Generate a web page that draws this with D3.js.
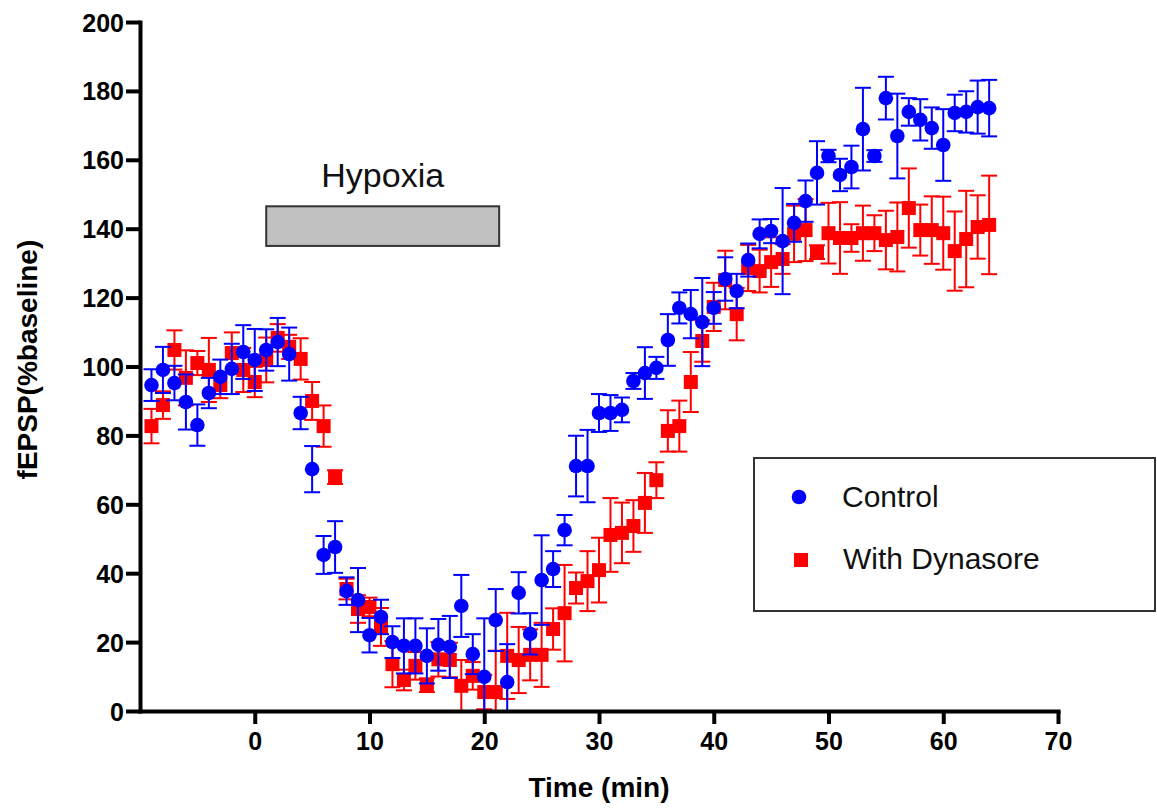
<!DOCTYPE html>
<html>
<head>
<meta charset="utf-8">
<script src="https://cdn.jsdelivr.net/npm/d3@7.9.0/dist/d3.min.js"></script>
<style>
  body { margin: 0; background: #fff; }
  svg text { font-family: "Liberation Sans", Arial, sans-serif; }
</style>
</head>
<body>
<svg id="chart" width="1157" height="809"></svg>
<script>
// time points (min)
const time = [-9, -8, -7, -6, -5, -4, -3, -2, -1, 0, 1, 2, 3, 4, 5, 6, 7, 8, 9, 10,
  11, 12, 13, 14, 15, 16, 17, 18, 19, 20, 21, 22, 23, 24, 25, 26, 27, 28, 29, 30,
  31, 32, 33, 34, 35, 36, 37, 38, 39, 40, 41, 42, 43, 44, 45, 46, 47, 48, 49, 50,
  51, 52, 53, 54, 55, 56, 57, 58, 59, 60, 61, 62, 63, 64];

// Control mean / SEM
const controlMean = [94.6, 99, 95.2, 89.7, 83, 92.3, 97, 99.3, 104.2, 101.9,
  104.8, 107.1, 103.6, 86.5, 70.2, 45.3, 47.6, 34.8, 32.2, 22,
  27.3, 20, 18.9, 18.9, 16, 19.2, 18.6, 30.5, 16.5, 9.9,
  26.4, 8.4, 34.3, 22.4, 38, 41.2, 52.5, 71.1, 71.1, 86.5,
  86.5, 87.4, 95.8, 98.1, 99.6, 107.7, 117, 115.2, 112.9, 117,
  125.4, 121.9, 130.9, 138.5, 139.3, 136.4, 141.7, 148, 156.2, 161.1,
  155.6, 157.9, 168.9, 161.1, 177.9, 166.9, 173.9, 171.6, 169.2, 164.3,
  173.6, 173.9, 175.3, 175];
const controlSem = [4.6, 6.7, 5, 8, 6, 4.4, 5, 7.3, 7.8, 9,
  6, 7, 7.7, 4.7, 6.7, 5.5, 7.5, 4, 9.3, 5,
  5, 4.6, 8, 8, 8, 7.5, 9, 9, 5.8, 17,
  9, 11, 6, 6, 13, 5.2, 4.4, 8.8, 10.5, 5.5,
  5.2, 3.6, 2.3, 7.5, 3.2, 7.5, 4.5, 7, 12.8, 4.6,
  6.3, 5, 4.8, 4.2, 3.5, 15.4, 5.5, 6, 9.2, 1.8,
  4.7, 6.2, 12, 1.7, 6.2, 12.3, 4, 6, 6, 10.4,
  5.3, 6, 7.7, 8.2];

// With Dynasore mean / SEM
const dynMean = [82.7, 88.8, 104.8, 96.7, 101, 99, 94.6, 103.9, 99, 95.5,
  101.9, 108.3, 105.7, 102.2, 90, 82.7, 67.9, 35.4, 29.6, 30.2,
  24.4, 13.6, 9, 13.1, 7.5, 15, 14.8, 7.3, 10.2, 5.5,
  5.5, 16, 14.8, 16.3, 16.3, 23.8, 28.4, 35.7, 37.7, 40.9,
  51.1, 51.7, 53.7, 60.4, 67, 81.3, 82.7, 95.5, 107.4, 117.3,
  125.1, 115.2, 128.6, 127.7, 130.3, 131.2, 138.5, 139.6, 133.2, 138.7,
  137.3, 137.3, 138.7, 138.7, 136.7, 137.6, 146, 139.6, 139.6, 138.7,
  133.5, 137, 140.5, 141.1];
const dynSem = [5, 4, 5.7, 8, 3.5, 9.3, 3.8, 6, 6.4, 4.4,
  6.5, 4, 3.5, 6, 5.5, 6, 2, 3, 4, 2.7,
  5.5, 6.7, 3, 4, 2, 5, 5, 7.5, 4, 5,
  12, 12.5, 9.6, 7.4, 9.3, 6, 14, 4.5, 8.7, 9.4,
  10.7, 8.8, 7.5, 8.7, 5.2, 6, 7.4, 8.7, 6, 7,
  8.5, 7.6, 6.7, 6.2, 7.2, 4.3, 8.2, 9, 2, 8.8,
  10.4, 4, 8, 5.2, 8.5, 10, 11.5, 7.4, 9.8, 10.6,
  11.5, 14, 9.2, 14.3];

const xTicks = [0, 10, 20, 30, 40, 50, 60, 70];
const yTicks = [0, 20, 40, 60, 80, 100, 120, 140, 160, 180, 200];
const hypoxia = { start: 1, end: 21.3, low: 135, high: 146.5, label: 'Hypoxia' };

const svg = d3.select('#chart');

const x = d3.scaleLinear().domain([-10, 70]).range([140, 1058]);
const y = d3.scaleLinear().domain([0, 200]).range([711, 22]);

// hypoxia bar
svg.append('rect')
  .attr('x', x(hypoxia.start))
  .attr('y', y(hypoxia.high))
  .attr('width', x(hypoxia.end) - x(hypoxia.start))
  .attr('height', y(hypoxia.low) - y(hypoxia.high))
  .attr('fill', '#c0c0c0')
  .attr('stroke', '#333')
  .attr('stroke-width', 2);

svg.append('text')
  .attr('x', (x(hypoxia.start) + x(hypoxia.end)) / 2)
  .attr('y', 187)
  .attr('text-anchor', 'middle')
  .attr('font-size', 34)
  .attr('fill', '#111')
  .text(hypoxia.label);

function series(mean, sem, color, shape) {
  const data = time.map((t, i) => ({ t, m: mean[i], s: sem[i] }));
  const g = svg.append('g');
  const capW = 8;

  const bars = g.selectAll('g.err').data(data).join('g')
    .attr('stroke', color)
    .attr('stroke-width', 2);
  bars.append('line')
    .attr('x1', d => x(d.t)).attr('x2', d => x(d.t))
    .attr('y1', d => y(d.m + d.s)).attr('y2', d => y(Math.max(0, d.m - d.s)));
  bars.append('line')
    .attr('x1', d => x(d.t) - capW).attr('x2', d => x(d.t) + capW)
    .attr('y1', d => y(d.m + d.s)).attr('y2', d => y(d.m + d.s));
  bars.filter(d => d.m - d.s > 0).append('line')
    .attr('x1', d => x(d.t) - capW).attr('x2', d => x(d.t) + capW)
    .attr('y1', d => y(d.m - d.s)).attr('y2', d => y(d.m - d.s));

  if (shape === 'circle') {
    g.selectAll('circle').data(data).join('circle')
      .attr('cx', d => x(d.t)).attr('cy', d => y(d.m))
      .attr('r', 7.3).attr('fill', color);
  } else {
    g.selectAll('rect').data(data).join('rect')
      .attr('x', d => x(d.t) - 7).attr('y', d => y(d.m) - 7)
      .attr('width', 14).attr('height', 14).attr('fill', color);
  }
}

series(dynMean, dynSem, '#ff0000', 'square');
series(controlMean, controlSem, '#0000ff', 'circle');

// axes
const xAxis = svg.append('g')
  .attr('transform', 'translate(0,711)')
  .call(d3.axisBottom(x).tickValues(xTicks).tickSize(13).tickSizeOuter(0).tickPadding(8));
const yAxis = svg.append('g')
  .attr('transform', 'translate(140,0)')
  .call(d3.axisLeft(y).tickValues(yTicks).tickSize(14).tickSizeOuter(0).tickPadding(2));

[xAxis, yAxis].forEach(a => {
  a.select('.domain').attr('stroke', '#000').attr('stroke-width', 4).attr('stroke-linecap', 'square');
  a.selectAll('.tick line').attr('stroke', '#000').attr('stroke-width', 4);
  a.selectAll('.tick text')
    .attr('fill', '#000')
    .attr('font-size', 25)
    .attr('font-weight', 'bold')
    .style('font-family', '"Liberation Sans", Arial, sans-serif');
});
yAxis.selectAll('.tick text').attr('dy', '0.36em');

// axis titles
svg.append('text')
  .attr('x', x(30))
  .attr('y', 797)
  .attr('text-anchor', 'middle')
  .attr('font-size', 28)
  .attr('font-weight', 'bold')
  .text('Time (min)');

svg.append('text')
  .attr('transform', `translate(37,${y(102)}) rotate(-90)`)
  .attr('text-anchor', 'middle')
  .attr('font-size', 28)
  .attr('font-weight', 'bold')
  .text('fEPSP(%baseline)');

// legend
const legend = svg.append('g');
legend.append('rect')
  .attr('x', 754).attr('y', 458).attr('width', 401).attr('height', 153)
  .attr('fill', 'none').attr('stroke', '#333').attr('stroke-width', 2);
legend.append('circle').attr('cx', 799).attr('cy', 497).attr('r', 7.3).attr('fill', '#0000ff');
legend.append('rect').attr('x', 794).attr('y', 553).attr('width', 14).attr('height', 14).attr('fill', '#ff0000');
legend.append('text').attr('x', 842).attr('y', 507).attr('font-size', 30).attr('fill', '#111').text('Control');
legend.append('text').attr('x', 843).attr('y', 569).attr('font-size', 30).attr('fill', '#111').text('With Dynasore');
</script>
</body>
</html>
